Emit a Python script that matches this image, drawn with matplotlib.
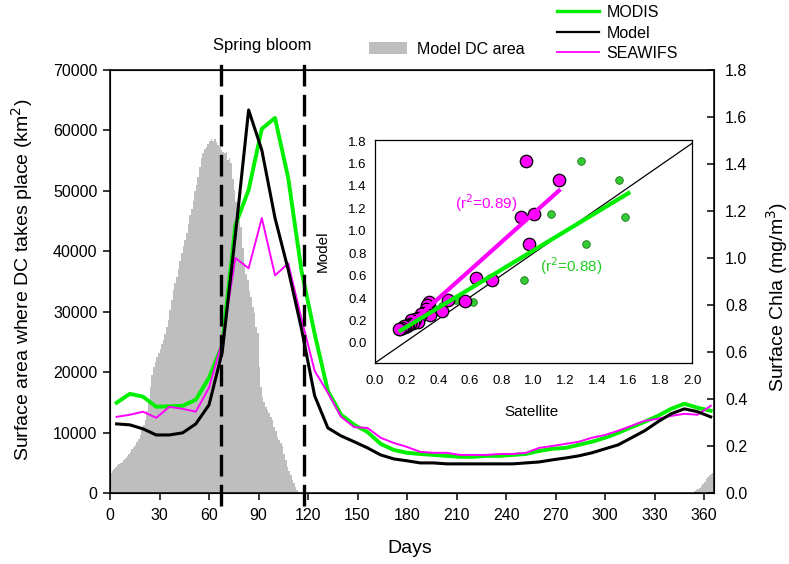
import matplotlib
matplotlib.use("Agg")
import numpy as np
import matplotlib.pyplot as plt
from matplotlib.lines import Line2D
from matplotlib.patches import Patch

plt.rcParams['font.family'] = ['Liberation Sans', 'DejaVu Sans']

# 8-day composite surface chlorophyll (mg/m3)
composite_days = [4, 12, 20, 28, 36, 44, 52, 60, 68, 76, 84, 92, 100, 108, 116, 124,
                  132, 140, 148, 156, 164, 172, 180, 188, 196, 204, 212, 220, 228, 236,
                  244, 252, 260, 268, 276, 284, 292, 300, 308, 316, 324, 332, 340, 348,
                  356, 364]
modis = [0.384, 0.422, 0.410, 0.367, 0.369, 0.371, 0.397, 0.490, 0.630, 1.140, 1.290,
         1.550, 1.596, 1.340, 0.947, 0.678, 0.435, 0.333, 0.290, 0.260, 0.209, 0.183,
         0.171, 0.166, 0.162, 0.158, 0.154, 0.154, 0.158, 0.158, 0.162, 0.166, 0.179,
         0.188, 0.192, 0.205, 0.218, 0.235, 0.256, 0.280, 0.303, 0.328, 0.358, 0.380,
         0.363, 0.350]
model = [0.294, 0.290, 0.273, 0.247, 0.247, 0.256, 0.294, 0.375, 0.600, 1.100, 1.630,
         1.459, 1.170, 0.950, 0.700, 0.414, 0.277, 0.243, 0.218, 0.192, 0.162, 0.145,
         0.137, 0.128, 0.128, 0.124, 0.124, 0.124, 0.124, 0.124, 0.124, 0.128, 0.132,
         0.141, 0.149, 0.158, 0.171, 0.188, 0.205, 0.235, 0.265, 0.303, 0.337, 0.358,
         0.346, 0.324]
seawifs = [0.324, 0.333, 0.346, 0.320, 0.367, 0.358, 0.346, 0.448, 0.645, 1.000, 0.956,
           1.170, 0.926, 0.977, 0.742, 0.520, 0.427, 0.324, 0.280, 0.277, 0.235, 0.213,
           0.196, 0.175, 0.171, 0.171, 0.162, 0.162, 0.162, 0.166, 0.166, 0.171, 0.192,
           0.200, 0.209, 0.218, 0.235, 0.247, 0.265, 0.286, 0.307, 0.316, 0.328, 0.337,
           0.333, 0.371]

# Daily model surface area where deep convection takes place (km2)
dc_spring = [3300, 3700, 4000, 4350, 4600, 4800, 5000, 5200, 5460, 5800, 6100, 6500,
             6840, 7200, 7600, 7950, 8400, 9000, 9600, 10500, 11300, 12090, 13500, 14900,
             17600, 19500, 20900, 21700, 22500, 23200, 23900, 24600, 25300, 26300, 27500,
             28600, 30300, 32000, 33600, 34700, 35800, 37100, 38400, 39700, 40800, 41900,
             43000, 44500, 46000, 47000, 48300, 50000, 51000, 52300, 54000, 55500, 56300,
             57000, 57300, 57800, 58200, 58500, 58300, 58600, 58100, 57600, 57200, 56800,
             56500, 56200, 56400, 55100, 55400, 54600, 52000, 50200, 48200, 46800, 45000,
             44100, 40500, 38000, 36200, 35300, 33500, 32500, 30800, 29800, 27500, 26500,
             20900, 17500, 15900, 15000, 14200, 13700, 13200, 12600, 12100, 11000, 10200,
             9300, 8800, 8200, 7700, 6500, 5400, 4350, 3600, 2900, 2150, 1600, 1000, 500,
             200, 0]
dc_winter = [300, 500, 700, 900, 1200, 1500, 1900, 2300, 2700, 3000, 3200, 3300]
dc_area = dc_spring + [0] * (354 - len(dc_spring)) + dc_winter
dc_days = list(range(len(dc_area)))

bloom_bounds = [67.5, 117.5]

# Model vs satellite chlorophyll (mg/m3)
modis_sat = [1.30, 1.54, 1.11, 1.58, 1.33, 0.94, 0.62, 0.51, 0.45, 0.42, 0.38, 0.36, 0.35,
             0.33, 0.31, 0.30, 0.28, 0.27, 0.26, 0.24, 0.23, 0.22, 0.21, 0.20, 0.19, 0.18,
             0.17, 0.16, 0.16]
modis_mod = [1.62, 1.45, 1.15, 1.12, 0.88, 0.56, 0.36, 0.38, 0.36, 0.33, 0.30, 0.27, 0.31,
             0.28, 0.26, 0.24, 0.23, 0.21, 0.20, 0.19, 0.18, 0.17, 0.16, 0.15, 0.14, 0.14,
             0.13, 0.12, 0.13]
seawifs_sat = [0.95, 1.16, 0.92, 1.00, 0.97, 0.64, 0.74, 0.57, 0.46, 0.42, 0.34, 0.33, 0.32,
               0.30, 0.35, 0.29, 0.28, 0.27, 0.25, 0.24, 0.23, 0.22, 0.21, 0.20, 0.19, 0.18,
               0.17, 0.16, 0.15]
seawifs_mod = [1.62, 1.45, 1.12, 1.15, 0.88, 0.58, 0.56, 0.37, 0.38, 0.28, 0.36, 0.34, 0.30,
               0.27, 0.25, 0.26, 0.22, 0.19, 0.21, 0.18, 0.20, 0.17, 0.16, 0.15, 0.14, 0.15,
               0.13, 0.12, 0.12]
# linear fits: (x start, x end, slope, intercept)
modis_fit = (0.15, 1.61, 0.853, -0.028)
seawifs_fit = (0.15, 1.17, 1.265, -0.110)
ref_x = [0.0, 2.0]
ref_y = [-0.18, 1.78]

GREEN = '#00f000'
MAGENTA = '#ff00ff'
GRAY = '#bebebe'

fig = plt.figure(figsize=(7.89, 5.64), dpi=100)
ax = fig.add_axes([110 / 789, 71 / 564, 604 / 789, 423 / 564])
ax.bar(dc_days, dc_area, width=1.0, align='edge', color=GRAY, linewidth=0)
ax.set_xlim(0, 366)
ax.set_ylim(0, 70000)
ax.set_xticks(np.arange(0, 361, 30))
ax.set_yticks(np.arange(0, 70001, 10000))
ax.tick_params(direction='out', length=5, width=1.1, labelsize=11.5, pad=4)
ax.tick_params(axis='x', pad=6)
for s in ax.spines.values():
    s.set_linewidth(1.1)
ax.set_xlabel('Days', fontsize=14, va='center')
ax.xaxis.set_label_coords(0.497, -0.132)
ax.set_ylabel('Surface area where DC takes place (km$^2$)', fontsize=14, va='center')
ax.yaxis.set_label_coords(-0.145, 0.505)

ax2 = ax.twinx()
ax2.set_ylim(0, 1.8)
ax2.set_yticks(np.arange(0, 1.81, 0.2))
ax2.yaxis.set_major_formatter(matplotlib.ticker.FormatStrFormatter('%.1f'))
ax2.tick_params(direction='in', length=5, width=1.1, labelsize=11.5, pad=8)
ax2.plot(composite_days, modis, color=GREEN, lw=2.8)
ax2.plot(composite_days, seawifs, color=MAGENTA, lw=1.4)
ax2.plot(composite_days, model, color='black', lw=2.2)
ax2.set_ylabel('Surface Chla (mg/m$^3$)', fontsize=14, va='center')
ax2.yaxis.set_label_coords(1.104, 0.463)
ax2.vlines(bloom_bounds, -0.03, 1.03, transform=ax2.get_xaxis_transform(),
           colors='black', linewidth=2.4, linestyles=(0, (6.5, 2.5)), clip_on=False,
           zorder=5)
ax2.text(np.mean(bloom_bounds), 1.058, 'Spring bloom', transform=ax2.get_xaxis_transform(),
         ha='center', va='center', fontsize=12)

line_handles = [Line2D([], [], color=GREEN, lw=2.4),
                Line2D([], [], color='black', lw=1.6),
                Line2D([], [], color=MAGENTA, lw=1.3)]
fig.legend(line_handles, ['MODIS', 'Model', 'SEAWIFS'], loc='center left',
           bbox_to_anchor=(557 / 789, 1 - 33 / 564), frameon=False, fontsize=11.5,
           borderpad=0, borderaxespad=0, handlelength=2.6, handletextpad=0.5,
           labelspacing=0.35)
fig.legend([Patch(facecolor=GRAY, edgecolor='none')], ['Model DC area'],
           loc='center left', bbox_to_anchor=(369 / 789, 1 - 49 / 564), frameon=False,
           fontsize=11.5, borderpad=0, borderaxespad=0, handlelength=2.4,
           handleheight=0.85, handletextpad=0.62)

# inset scatter
axi = fig.add_axes([375 / 789, 201 / 564, 317 / 789, 223 / 564])
axi.set_facecolor('white')
axi.set_xlim(0, 2.0)
axi.set_ylim(-0.18, 1.81)
axi.set_xticks(np.arange(0, 2.01, 0.2))
axi.set_yticks(np.arange(0, 1.81, 0.2))
axi.xaxis.set_major_formatter(matplotlib.ticker.FormatStrFormatter('%.1f'))
axi.yaxis.set_major_formatter(matplotlib.ticker.FormatStrFormatter('%.1f'))
axi.tick_params(length=0, labelsize=9.5)
axi.tick_params(axis='x', pad=9)
axi.tick_params(axis='y', pad=6)
for s in axi.spines.values():
    s.set_linewidth(0.9)
axi.plot(ref_x, ref_y, color='black', lw=0.9)
axi.scatter(modis_sat, modis_mod, s=30, color='#33cc33', edgecolors='#1c6e1c',
            linewidths=0.6, zorder=3)
axi.scatter(seawifs_sat, seawifs_mod, s=80, color=MAGENTA, edgecolors='black',
            linewidths=0.9, zorder=4)
for fit, col in ((seawifs_fit, MAGENTA), (modis_fit, GREEN)):
    x0, x1, slope, icpt = fit
    fx = np.array([x0, x1])
    axi.plot(fx, icpt + slope * fx, color=col, lw=3.0, zorder=5, solid_capstyle='butt')
axi.text(0.70, 1.25, '(r$^2$=0.89)', color=MAGENTA, fontsize=11, ha='center', va='center')
axi.text(1.24, 0.68, '(r$^2$=0.88)', color='#22cc22', fontsize=11, ha='center', va='center')
axi.set_xlabel('Satellite', fontsize=11, va='center')
axi.xaxis.set_label_coords(0.495, -0.22)
axi.set_ylabel('Model', fontsize=11, va='center')
axi.yaxis.set_label_coords(-0.164, 0.5)

fig.savefig('out.png', dpi=100)
